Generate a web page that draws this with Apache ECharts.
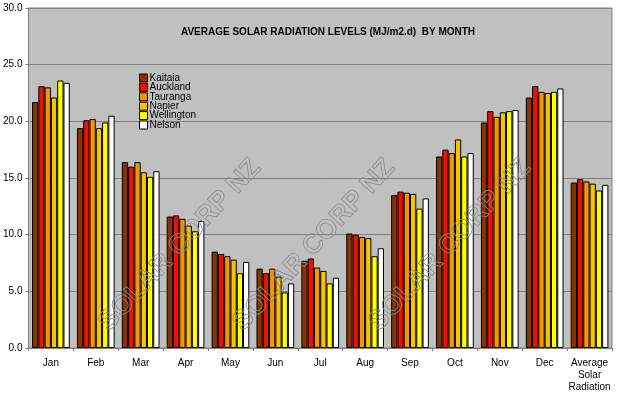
<!DOCTYPE html>
<html><head><meta charset="utf-8">
<script src="https://cdn.jsdelivr.net/npm/echarts@6/dist/echarts.min.js"></script>
<style>html,body{margin:0;padding:0;background:#fff}#c{width:617px;height:393px}</style>
</head><body><div id="c"></div>
<script>
const categories = ['Jan','Feb','Mar','Apr','May','Jun','Jul','Aug','Sep','Oct','Nov','Dec','Average\nSolar\nRadiation'];
const Kaitaia    = [21.7,19.4,16.4,11.6,8.5,7.0,7.7,10.1,13.5,16.9,19.9,22.1,14.6];
const Auckland   = [23.1,20.1,16.0,11.7,8.3,6.6,7.9,10.0,13.8,17.5,20.9,23.1,14.9];
const Tauranga   = [23.0,20.2,16.4,11.4,8.1,7.0,7.1,9.8,13.7,17.2,20.4,22.6,14.7];
const Napier     = [22.1,19.4,15.5,10.8,7.8,6.3,6.8,9.7,13.6,18.4,20.8,22.5,14.5];
const Wellington = [23.6,19.9,15.1,10.3,6.6,4.9,5.7,8.1,12.3,16.9,20.9,22.6,13.9];
const Nelson     = [23.4,20.5,15.6,11.2,7.6,5.7,6.2,8.8,13.2,17.2,21.0,22.9,14.4];
const seriesNames = ['Kaitaia','Auckland','Tauranga','Napier','Wellington','Nelson'];
const seriesData = [Kaitaia,Auckland,Tauranga,Napier,Wellington,Nelson];
const colors = ['#883300','#ee1100','#f59500','#f5c400','#ffff00','#ffffff'];
const yTicks = [0,5,10,15,20,25,30];

const chart = echarts.init(document.getElementById('c'));
const wm = (x,y) => ({
  type:'text', x:x, y:y, rotation: 0.82, silent:true, z:5,
  style:{text:'SOLAR CORP NZ', font:'bold 27px Arial', fill:'rgba(0,0,0,0)', stroke:'#8a8a8a', lineWidth:0.8, align:'center', verticalAlign:'middle'}
});
chart.setOption({
  animation:false,
  title:{text:'AVERAGE SOLAR RADIATION LEVELS (MJ/m2.d)  BY MONTH', left:323, top:22, textAlign:'center',
    textStyle:{fontFamily:'Arial', fontSize:10, fontWeight:'bold', color:'#000'}},
  legend:{data:seriesNames, orient:'vertical', left:134, top:68, itemWidth:8, itemHeight:8, itemGap:-0.6, icon:'rect',
    textStyle:{fontFamily:'Arial', fontSize:10, color:'#000', lineHeight:8, padding:[0,0,0,-3]},
    itemStyle:{borderColor:'#000', borderWidth:1}},
  grid:{left:28, right:5, top:8, bottom:44, show:true, backgroundColor:'#c0c0c0', borderColor:'#808080', borderWidth:1},
  xAxis:{type:'category', data:categories,
    axisLine:{lineStyle:{color:'#808080'}}, axisTick:{show:true, length:3, lineStyle:{color:'#808080'}},
    axisLabel:{interval:0, fontFamily:'Arial', fontSize:10, color:'#000', margin:9, lineHeight:12}},
  yAxis:{type:'value', min:yTicks[0], max:yTicks[yTicks.length-1], interval:5,
    axisLine:{show:true, lineStyle:{color:'#808080'}}, axisTick:{show:true, length:3, lineStyle:{color:'#808080'}},
    splitLine:{lineStyle:{color:'#808080', width:1}},
    axisLabel:{fontFamily:'Arial', fontSize:10, color:'#000', margin:6, formatter:v=>v.toFixed(1)}},
  graphic:[wm(180,245), wm(314,245), wm(450,245)],
  series: seriesNames.map((n,i)=>({
    name:n, type:'bar', data:seriesData[i], barGap:'0%', barCategoryGap:'16%',
    itemStyle:{color:colors[i], borderColor:'#000', borderWidth:1}
  }))
});
</script></body></html>
